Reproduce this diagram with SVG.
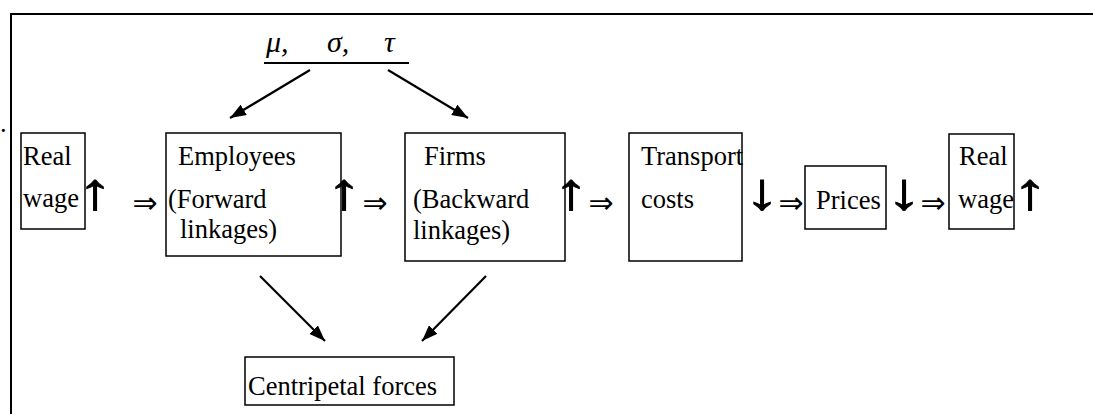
<svg xmlns="http://www.w3.org/2000/svg" width="1093" height="414" viewBox="0 0 1093 414">
<style>
.t{font-family:"Liberation Serif","Times New Roman",serif;font-size:26.5px;fill:#000}
.g{font-family:"Liberation Serif",serif;font-size:30px;font-style:italic;fill:#000}
.box{fill:#fff;stroke:#000;stroke-width:1.5}
.ar{font-family:"Liberation Sans","DejaVu Sans",sans-serif;font-size:52px;fill:#000;stroke:#000;stroke-width:0.8;text-anchor:middle}
.dr{font-family:"DejaVu Sans",sans-serif;font-size:30px;fill:#000;text-anchor:middle}
.con{stroke:#000;stroke-width:2.2;fill:none;marker-end:url(#ah)}
</style>
<defs>
<marker id="ah" viewBox="0 0 16 12" refX="16" refY="6" markerWidth="16" markerHeight="12" markerUnits="userSpaceOnUse" orient="auto">
<path d="M0,0 L16,6 L0,12 z" fill="#000"/>
</marker>
</defs>
<rect width="1093" height="414" fill="#fff"/>
<g id="frame" stroke="#000" stroke-width="2" fill="none">
<path d="M11,414 V14 H1093"/>
</g>
<text class="t" x="0" y="132">.</text>
<g id="params">
<text class="g" x="266" y="52">μ,</text>
<text class="g" x="327" y="52">σ,</text>
<text class="g" x="384" y="52">τ</text>
<line x1="264" y1="63" x2="409" y2="63" stroke="#000" stroke-width="2"/>
</g>
<g id="realwage1">
<rect class="box" x="21" y="133" width="64" height="96"/>
<text class="t" x="23" y="165">Real</text>
<text class="t" x="23" y="207">wage</text>
</g>
<g id="employees">
<rect class="box" x="166" y="133" width="175" height="123"/>
<text class="t" x="178" y="165">Employees</text>
<text class="t" x="168" y="208">(Forward</text>
<text class="t" x="180" y="238">linkages)</text>
</g>
<g id="firms">
<rect class="box" x="405" y="133" width="160" height="128"/>
<text class="t" x="424" y="165">Firms</text>
<text class="t" x="413" y="208">(Backward</text>
<text class="t" x="413" y="239">linkages)</text>
</g>
<g id="transport">
<rect class="box" x="629" y="133" width="113" height="128"/>
<text class="t" x="641" y="165">Transport</text>
<text class="t" x="641" y="208">costs</text>
</g>
<g id="prices">
<rect class="box" x="805" y="166" width="81" height="63"/>
<text class="t" x="816" y="209">Prices</text>
</g>
<g id="realwage2">
<rect class="box" x="949" y="134" width="65" height="95"/>
<text class="t" x="959" y="165">Real</text>
<text class="t" x="958" y="208">wage</text>
</g>
<g id="centripetal">
<rect class="box" x="245" y="357" width="209" height="48"/>
<text class="t" x="248" y="395">Centripetal forces</text>
</g>
<g id="symbols">
<text class="ar" transform="translate(95,209) scale(1.35,1)">↑</text>
<text class="dr" x="145" y="213">⇒</text>
<text class="ar" transform="translate(344,209) scale(1.35,1)">↑</text>
<text class="dr" x="375" y="213">⇒</text>
<text class="ar" transform="translate(571,209) scale(1.35,1)">↑</text>
<text class="dr" x="601" y="213">⇒</text>
<text class="ar" transform="translate(762,209) scale(1.35,1)">↓</text>
<text class="dr" x="791" y="213">⇒</text>
<text class="ar" transform="translate(904,209) scale(1.35,1)">↓</text>
<text class="dr" x="933" y="213">⇒</text>
<text class="ar" transform="translate(1030,209) scale(1.35,1)">↑</text>
</g>
<g id="connectors">
<line class="con" x1="310" y1="70" x2="230" y2="118"/>
<line class="con" x1="388" y1="70" x2="468" y2="118"/>
<line class="con" x1="260" y1="276" x2="325" y2="341"/>
<line class="con" x1="486" y1="276" x2="422" y2="341"/>
</g>
</svg>
